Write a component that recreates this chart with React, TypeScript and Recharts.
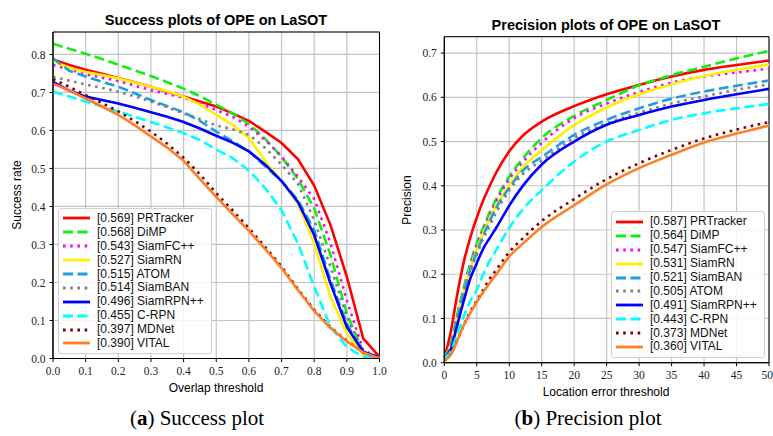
import React from 'react';
import { LineChart, Line, XAxis, YAxis, CartesianGrid, ReferenceArea } from 'recharts';

// success plot (overlap threshold)
const overlapX = [0, 0.05, 0.1, 0.15, 0.2, 0.25, 0.3, 0.35, 0.4, 0.45, 0.5, 0.55, 0.6, 0.65, 0.7, 0.75, 0.8, 0.85, 0.9, 0.95, 1.0];
const succPRTracker = [0.787, 0.772, 0.76, 0.749, 0.738, 0.727, 0.715, 0.702, 0.689, 0.676, 0.663, 0.645, 0.625, 0.597, 0.567, 0.525, 0.455, 0.351, 0.215, 0.053, 0.004];
const succDiMP = [0.828, 0.815, 0.802, 0.788, 0.773, 0.758, 0.743, 0.727, 0.71, 0.69, 0.668, 0.645, 0.617, 0.578, 0.53, 0.473, 0.395, 0.272, 0.118, 0.018, 0.002];
const succSiamFCpp = [0.772, 0.76, 0.748, 0.739, 0.73, 0.718, 0.706, 0.696, 0.686, 0.671, 0.654, 0.636, 0.61, 0.575, 0.532, 0.478, 0.42, 0.303, 0.153, 0.022, 0.003];
const succSiamRN = [0.782, 0.765, 0.754, 0.746, 0.737, 0.726, 0.715, 0.703, 0.689, 0.668, 0.641, 0.615, 0.58, 0.519, 0.467, 0.408, 0.303, 0.162, 0.066, 0.01, 0.002];
const succATOM = [0.79, 0.757, 0.742, 0.728, 0.715, 0.698, 0.68, 0.664, 0.648, 0.625, 0.597, 0.572, 0.545, 0.506, 0.467, 0.417, 0.338, 0.207, 0.092, 0.015, 0.002];
const succSiamBAN = [0.741, 0.731, 0.721, 0.712, 0.702, 0.69, 0.676, 0.661, 0.645, 0.63, 0.613, 0.603, 0.589, 0.554, 0.51, 0.46, 0.364, 0.241, 0.11, 0.015, 0.002];
const succSiamRPNpp = [0.728, 0.705, 0.689, 0.68, 0.671, 0.66, 0.648, 0.636, 0.622, 0.605, 0.586, 0.568, 0.545, 0.51, 0.467, 0.412, 0.325, 0.197, 0.083, 0.018, 0.002];
const succCRPN = [0.702, 0.689, 0.676, 0.663, 0.65, 0.636, 0.622, 0.608, 0.593, 0.575, 0.55, 0.527, 0.495, 0.448, 0.39, 0.303, 0.189, 0.083, 0.03, 0.005, 0.001];
const succMDNet = [0.735, 0.715, 0.693, 0.672, 0.65, 0.625, 0.597, 0.565, 0.528, 0.485, 0.435, 0.39, 0.343, 0.293, 0.242, 0.183, 0.128, 0.082, 0.046, 0.016, 0.0];
const succVITAL = [0.723, 0.705, 0.684, 0.663, 0.641, 0.614, 0.584, 0.555, 0.52, 0.472, 0.425, 0.38, 0.336, 0.288, 0.238, 0.18, 0.125, 0.08, 0.045, 0.016, 0.0];

const successNames = ['PRTracker', 'DiMP', 'SiamFC++', 'SiamRN', 'ATOM', 'SiamBAN', 'SiamRPN++', 'C-RPN', 'MDNet', 'VITAL'];
const successScores = ['0.569', '0.568', '0.543', '0.527', '0.515', '0.514', '0.496', '0.455', '0.397', '0.390'];
const successSeries = [succPRTracker, succDiMP, succSiamFCpp, succSiamRN, succATOM, succSiamBAN, succSiamRPNpp, succCRPN, succMDNet, succVITAL];

// precision plot (location error threshold)
const locErrX = [0, 1, 2, 3, 4, 5, 6, 7, 8, 10, 12, 15, 20, 25, 30, 35, 40, 45, 50];
const precPRTracker = [0.01, 0.07, 0.155, 0.228, 0.283, 0.328, 0.367, 0.4, 0.43, 0.478, 0.512, 0.545, 0.58, 0.607, 0.628, 0.647, 0.662, 0.673, 0.683];
const precDiMP = [0.01, 0.045, 0.11, 0.17, 0.225, 0.27, 0.305, 0.34, 0.37, 0.421, 0.46, 0.508, 0.558, 0.594, 0.627, 0.65, 0.669, 0.688, 0.705];
const precSiamFCpp = [0.01, 0.042, 0.105, 0.165, 0.22, 0.265, 0.3, 0.335, 0.365, 0.415, 0.452, 0.497, 0.553, 0.586, 0.612, 0.633, 0.647, 0.656, 0.665];
const precSiamRN = [0.01, 0.04, 0.1, 0.16, 0.213, 0.255, 0.293, 0.325, 0.355, 0.4, 0.44, 0.48, 0.537, 0.577, 0.607, 0.629, 0.648, 0.662, 0.674];
const precSiamBAN = [0.01, 0.04, 0.1, 0.16, 0.21, 0.25, 0.287, 0.32, 0.35, 0.395, 0.433, 0.465, 0.515, 0.549, 0.575, 0.597, 0.613, 0.626, 0.638];
const precATOM = [0.01, 0.038, 0.095, 0.155, 0.205, 0.245, 0.28, 0.31, 0.34, 0.39, 0.425, 0.457, 0.508, 0.541, 0.565, 0.586, 0.602, 0.617, 0.629];
const precSiamRPNpp = [0.01, 0.03, 0.085, 0.14, 0.19, 0.225, 0.258, 0.282, 0.305, 0.355, 0.398, 0.448, 0.5, 0.538, 0.56, 0.579, 0.594, 0.607, 0.619];
const precCRPN = [0.01, 0.025, 0.065, 0.105, 0.14, 0.165, 0.2, 0.23, 0.255, 0.305, 0.345, 0.39, 0.455, 0.5, 0.526, 0.549, 0.564, 0.575, 0.585];
const precMDNet = [0.005, 0.02, 0.05, 0.085, 0.115, 0.14, 0.165, 0.19, 0.21, 0.25, 0.28, 0.32, 0.37, 0.415, 0.451, 0.481, 0.507, 0.527, 0.544];
const precVITAL = [0.005, 0.018, 0.05, 0.085, 0.112, 0.137, 0.16, 0.18, 0.2, 0.24, 0.268, 0.307, 0.356, 0.403, 0.44, 0.47, 0.498, 0.518, 0.536];

const precisionNames = ['PRTracker', 'DiMP', 'SiamFC++', 'SiamRN', 'SiamBAN', 'ATOM', 'SiamRPN++', 'C-RPN', 'MDNet', 'VITAL'];
const precisionScores = ['0.587', '0.564', '0.547', '0.531', '0.521', '0.505', '0.491', '0.443', '0.373', '0.360'];
const precisionSeries = [precPRTracker, precDiMP, precSiamFCpp, precSiamRN, precSiamBAN, precATOM, precSiamRPNpp, precCRPN, precMDNet, precVITAL];

const successTicksX = [0, 0.1, 0.2, 0.3, 0.4, 0.5, 0.6, 0.7, 0.8, 0.9, 1.0];
const successTicksY = [0, 0.1, 0.2, 0.3, 0.4, 0.5, 0.6, 0.7, 0.8];
const precisionTicksX = [0, 5, 10, 15, 20, 25, 30, 35, 40, 45, 50];
const precisionTicksY = [0, 0.1, 0.2, 0.3, 0.4, 0.5, 0.6, 0.7];

const DASH = '10 4.5';
const DOT = '2.6 4.6';
// line style goes by rank in the legend
const rankStyles = [
  { color: '#ff0000', dash: undefined },
  { color: '#11ee11', dash: DASH },
  { color: '#ff00ff', dash: DOT },
  { color: '#fff000', dash: undefined },
  { color: '#1f9fe0', dash: DASH },
  { color: '#808080', dash: DOT },
  { color: '#0000ff', dash: undefined },
  { color: '#00ffff', dash: DASH },
  { color: '#800000', dash: DOT },
  { color: '#ff7f27', dash: undefined },
];

const buildRows = (xs: number[], series: number[][]) =>
  xs.map((x, i) => {
    const row: Record<string, number> = { x };
    series.forEach((s, k) => {
      row['s' + k] = s[i];
    });
    return row;
  });

const successData = buildRows(overlapX, successSeries);
const precisionData = buildRows(locErrX, precisionSeries);

const tickFont = { fontFamily: 'Liberation Serif', fontSize: 11.5, fill: '#222' };
const sans = 'Liberation Sans, Arial, sans-serif';

const LegendBox = ({ left, top, names, scores }: { left: number; top: number; names: string[]; scores: string[] }) => (
  <div
    style={{
      position: 'absolute', left, top, width: 152, padding: '3px 0',
      background: 'rgba(255,255,255,0.85)', border: '1px solid #d0d0d0', borderRadius: 3,
      fontFamily: sans, fontSize: 12, color: '#111',
    }}
  >
    {names.map((n, i) => (
      <div key={n} style={{ height: 13.9, display: 'flex', alignItems: 'center', whiteSpace: 'nowrap' }}>
        <svg width={38} height={10} style={{ flex: 'none' }}>
          <line x1={4} y1={5} x2={31} y2={5} stroke={rankStyles[i].color} strokeWidth={2.8} strokeDasharray={rankStyles[i].dash} />
        </svg>
        <span style={{ lineHeight: '13px' }}>[{scores[i]}] {n}</span>
      </div>
    ))}
  </div>
);

const Text = ({ x, y, children, style }: { x: number; y: number; children: React.ReactNode; style?: React.CSSProperties }) => (
  <div style={{ position: 'absolute', left: x, top: y, transform: 'translate(-50%, -50%)', whiteSpace: 'nowrap', ...style }}>
    {children}
  </div>
);

const App = () => {
  return (
    <div style={{ position: 'absolute', left: 0, top: 0, width: 773, height: 436, background: '#fff', overflow: 'hidden' }}>
      <div style={{ position: 'absolute', left: 0, top: 0 }}>
        <LineChart width={390} height={400} data={successData} margin={{ top: 32, right: 10.5, left: 0, bottom: 11.5 }}>
          <CartesianGrid stroke="#c4c4c4" strokeWidth={1.2} />
          <XAxis type="number" dataKey="x" domain={[0, 1]} ticks={successTicksX} height={30}
            tickFormatter={(v: number) => v.toFixed(1)} tick={tickFont} stroke="#000" tickSize={3.5} tickMargin={5} />
          <YAxis type="number" domain={[0, 0.859]} ticks={successTicksY} width={53} allowDataOverflow
            tickFormatter={(v: number) => v.toFixed(1)} tick={tickFont} stroke="#000" tickSize={3.5} tickMargin={4} />
          {successSeries.map((_, k) => (
            <Line key={k} type="linear" dataKey={'s' + k} stroke={rankStyles[k].color} strokeWidth={2.6}
              strokeDasharray={rankStyles[k].dash} dot={false} isAnimationActive={false} />
          ))}
          <ReferenceArea x1={0} x2={1} y1={0} y2={0.859} fill="none" fillOpacity={0} stroke="#000" strokeWidth={1} ifOverflow="visible" />
        </LineChart>
      </div>
      <div style={{ position: 'absolute', left: 390, top: 0 }}>
        <LineChart width={383} height={400} data={precisionData} margin={{ top: 36.7, right: 4, left: 0, bottom: 7.3 }}>
          <CartesianGrid stroke="#c4c4c4" strokeWidth={1.2} />
          <XAxis type="number" dataKey="x" domain={[0, 50]} ticks={precisionTicksX} height={30}
            tick={tickFont} stroke="#000" tickSize={3.5} tickMargin={5} />
          <YAxis type="number" domain={[0, 0.737]} ticks={precisionTicksY} width={54.3} allowDataOverflow
            tickFormatter={(v: number) => v.toFixed(1)} tick={tickFont} stroke="#000" tickSize={3.5} tickMargin={4} />
          {precisionSeries.map((_, k) => (
            <Line key={k} type="monotone" dataKey={'s' + k} stroke={rankStyles[k].color} strokeWidth={2.6}
              strokeDasharray={rankStyles[k].dash} dot={false} isAnimationActive={false} />
          ))}
          <ReferenceArea x1={0} x2={50} y1={0} y2={0.737} fill="none" fillOpacity={0} stroke="#000" strokeWidth={1} ifOverflow="visible" />
        </LineChart>
      </div>

      <LegendBox left={58} top={207.5} names={successNames} scores={successScores} />
      <LegendBox left={611} top={211} names={precisionNames} scores={precisionScores} />

      <Text x={216} y={20} style={{ fontFamily: sans, fontWeight: 'bold', fontSize: 14.5 }}>Success plots of OPE on LaSOT</Text>
      <Text x={606} y={25} style={{ fontFamily: sans, fontWeight: 'bold', fontSize: 14.5 }}>Precision plots of OPE on LaSOT</Text>
      <Text x={216} y={388} style={{ fontFamily: sans, fontSize: 12 }}>Overlap threshold</Text>
      <Text x={606} y={392} style={{ fontFamily: sans, fontSize: 12 }}>Location error threshold</Text>
      <Text x={17} y={195} style={{ fontFamily: sans, fontSize: 12, transform: 'translate(-50%, -50%) rotate(-90deg)' }}>Success rate</Text>
      <Text x={407} y={200} style={{ fontFamily: sans, fontSize: 12, transform: 'translate(-50%, -50%) rotate(-90deg)' }}>Precision</Text>
      <Text x={197} y={418} style={{ fontFamily: 'Liberation Serif', fontSize: 21 }}>(<b>a</b>) Success plot</Text>
      <Text x={588} y={418} style={{ fontFamily: 'Liberation Serif', fontSize: 21 }}>(<b>b</b>) Precision plot</Text>
    </div>
  );
};

export default App;
